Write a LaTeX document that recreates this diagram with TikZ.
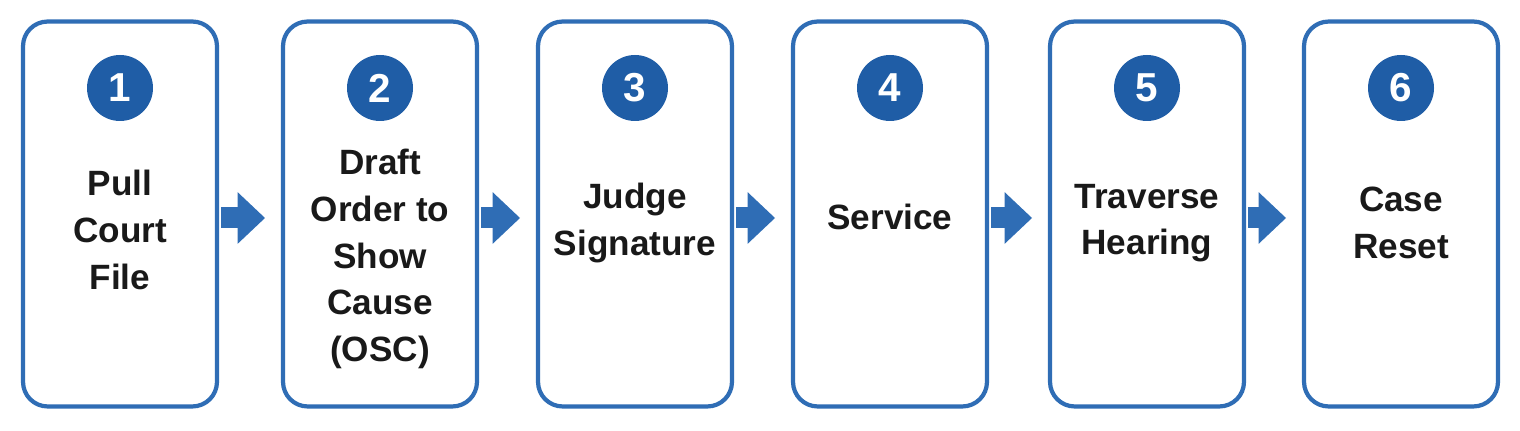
\documentclass[tikz,border=0pt]{standalone}
\usepackage{fontspec}
\setmainfont{Liberation Sans}
\usetikzlibrary{arrows.meta}
\definecolor{bord}{HTML}{2F6DB5}
\definecolor{circ}{HTML}{1F5DA6}
\begin{document}
\begin{tikzpicture}[x=0.02cm,y=-0.02cm,
  box/.style={draw=bord,line width=2.4pt,rounded corners=14pt,fill=white,minimum width=3.88cm,minimum height=7.7cm,inner sep=0pt},
  num/.style={circle,fill=circ,text=white,minimum size=1.32cm,inner sep=0pt,font=\fontsize{23}{23}\selectfont\bfseries},
  lbl/.style={align=center,font=\fontsize{20}{26.5}\selectfont\bfseries,text=black!90},
  arr/.style={draw=bord,line width=0.42cm,-{Triangle[length=0.55cm,width=1.0cm]},shorten <=1pt,shorten >=9pt}]
\useasboundingbox (0,0) rectangle (1520,431);
\foreach \i/\x/\t/\ty in {1/120/{Pull\\Court\\File}/230,2/380/{Draft\\Order to\\Show\\Cause\\(OSC)}/259,3/635/{Judge\\Signature}/223,4/890/{Service}/217,5/1147/{Traverse\\Hearing}/223,6/1401/{Case\\Reset}/223}{
  \node[box] (b\i) at (\x,214) {};
  \node[num] (n\i) at (\x,88) {\i};
  \node[lbl] (t\i) at (\x,\ty) {\t};
}
\foreach \a/\b in {1/2,2/3,3/4,4/5,5/6}{
  \draw[arr] ([yshift=-0.08cm]b\a.east) -- ([yshift=-0.08cm]b\b.west);
}
\end{tikzpicture}
\end{document}
